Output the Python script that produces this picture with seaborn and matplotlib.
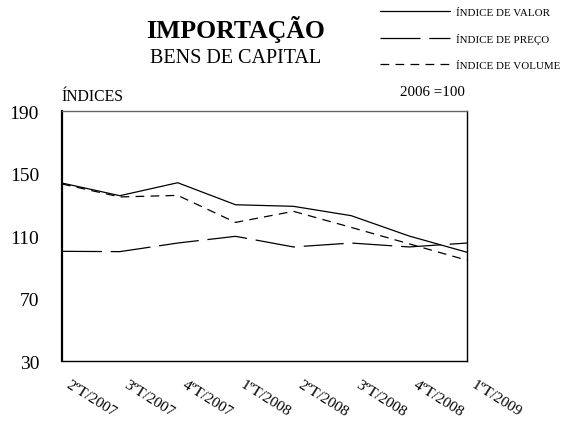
import pandas as pd
import matplotlib.pyplot as plt
import matplotlib.transforms as mtransforms
import seaborn as sns

# quarters and index series (2006 = 100)
quarters = ["2ºT/2007", "3ºT/2007", "4ºT/2007", "1ºT/2008",
            "2ºT/2008", "3ºT/2008", "4ºT/2008", "1ºT/2009"]
valor = [143.9, 135.8, 144.1, 130.0, 129.0, 123.0, 110.0, 99.6]
preco = [100.2, 100.0, 105.5, 109.8, 103.0, 105.5, 103.0, 105.5]
volume = [143.3, 135.0, 136.0, 118.7, 125.8, 115.5, 105.0, 94.5]
y_ticks = [30, 70, 110, 150, 190]

sns.set_style("white")
plt.rcParams['font.family'] = ['Liberation Serif', 'DejaVu Serif']
plt.rcParams['text.color'] = 'black'
plt.rcParams['xtick.color'] = 'black'
plt.rcParams['ytick.color'] = 'black'

df = pd.DataFrame({"pos": range(len(quarters)), "valor": valor,
                   "preco": preco, "volume": volume})

fig = plt.figure(figsize=(5.61, 4.27), dpi=100)
ax = fig.add_axes([0.1105, 0.1522, 0.7219, 0.5855])

sns.lineplot(data=df, x="pos", y="valor", ax=ax, color="black", lw=0.9,
             label="ÍNDICE DE VALOR")
sns.lineplot(data=df, x="pos", y="preco", ax=ax, color="black", lw=0.9,
             linestyle=(0, (32, 7)), label="ÍNDICE DE PREÇO")
sns.lineplot(data=df, x="pos", y="volume", ax=ax, color="black", lw=0.9,
             linestyle=(0, (7, 5)), label="ÍNDICE DE VOLUME")

ax.set_xlim(0, len(quarters) - 1)
ax.set_ylim(30, 190)
ax.set_yticks(y_ticks)
ax.set_yticklabels([str(v) for v in y_ticks], fontsize=14)
ax.set_xticks(range(len(quarters)))
ax.set_xticklabels(quarters, rotation=-32, ha="left", va="top",
                   rotation_mode="anchor", fontsize=11)
ax.tick_params(axis="x", direction="in", length=3, width=0.8, pad=12)
ax.tick_params(axis="y", direction="in", length=3, width=0.8, pad=16.5)
ax.set_xlabel("")
ax.set_ylabel("")

# nudge the slanted quarter labels to the right of their ticks
shift = mtransforms.ScaledTranslation(0.09, 0.0, fig.dpi_scale_trans)
for lbl in ax.get_xticklabels():
    lbl.set_transform(lbl.get_transform() + shift)

for side in ["left", "bottom", "right"]:
    ax.spines[side].set_color("black")
ax.spines["left"].set_linewidth(1.6)
ax.spines["bottom"].set_linewidth(1.0)
ax.spines["right"].set_linewidth(1.0)
ax.spines["top"].set_color("#666666")
ax.spines["top"].set_linewidth(1.0)

ax.legend_.remove()
handles, labels = ax.get_legend_handles_labels()
fig.legend(handles, labels, loc="upper left", bbox_to_anchor=(0.677, 0.98),
           frameon=False, fontsize=7.9, handlelength=6.4, handletextpad=0.5,
           labelspacing=1.45, borderpad=0, borderaxespad=0)

fig.text(0.42, 1 - 38 / 427, "IMPORTAÇÃO", ha="center", va="baseline",
         fontsize=18.5, fontweight="bold")
fig.text(0.42, 1 - 63 / 427, "BENS DE CAPITAL", ha="center", va="baseline",
         fontsize=14.5)
fig.text(0.11, 1 - 97 / 427, "ÍNDICES", ha="left", va="center", fontsize=11.3)
fig.text(0.829, 1 - 93 / 427, "2006 =100", ha="right", va="center", fontsize=10.8)

plt.savefig("out.png", dpi=100)
